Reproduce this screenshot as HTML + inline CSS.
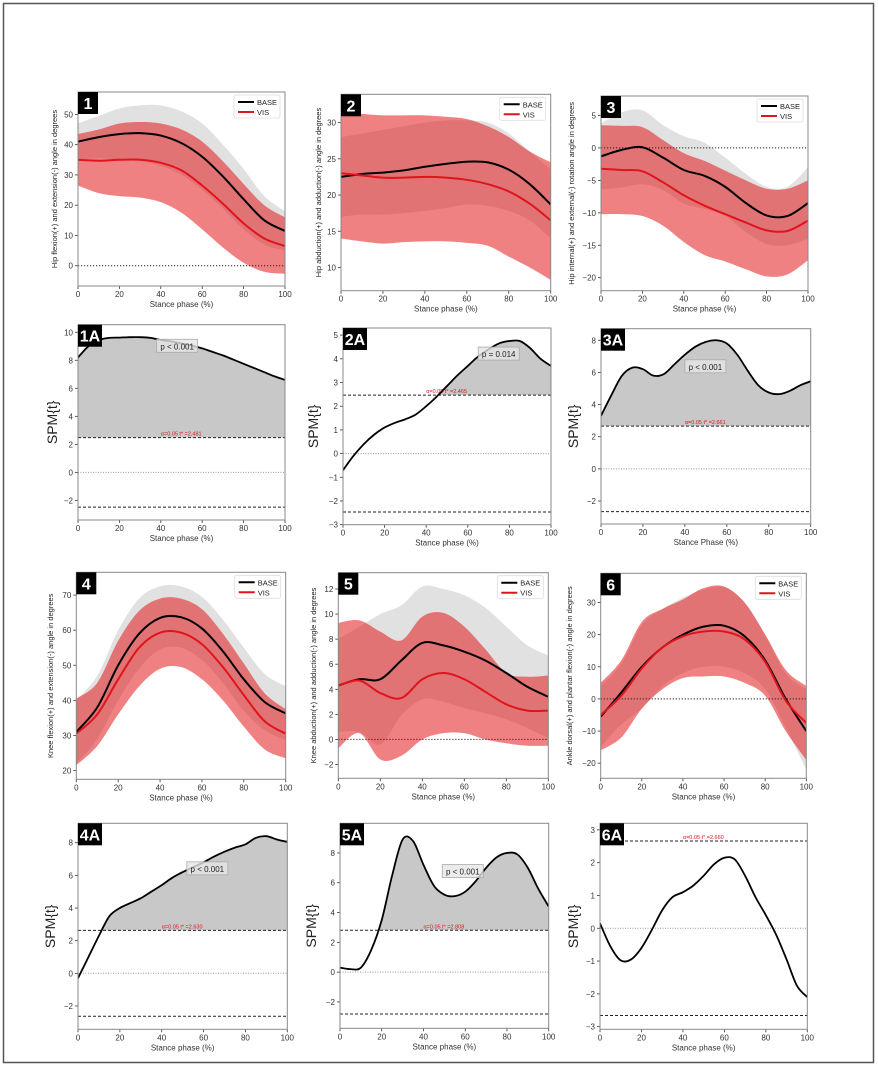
<!DOCTYPE html>
<html><head><meta charset="utf-8">
<style>
html,body{margin:0;padding:0;background:#fff;}
svg{display:block;font-family:"Liberation Sans","DejaVu Sans",sans-serif;}
</style></head>
<body>
<svg id="fig" width="878" height="1067" viewBox="0 0 878 1067" xmlns="http://www.w3.org/2000/svg">
<rect x="0" y="0" width="878" height="1067" fill="#fff"/>
<rect x="3.5" y="3.5" width="870" height="1059" fill="none" stroke="#555" stroke-width="1.5"/>
</svg>
<script>
// ---- shared x grid ----
const x10 = [0,10,20,30,40,50,60,70,80,90,100];
const x5 = [0,5,10,15,20,25,30,35,40,45,50,55,60,65,70,75,80,85,90,95,100];

// ---- Panel 1: hip flexion ----
const p1BaseMean = [41,42.5,43.5,43.8,43,40.5,36,29.5,22,15,11.5];
const p1BaseUp   = [47,49.5,52,53,53,51,47,40,32,23,18];
const p1BaseLo   = [35,35.5,35,34.6,33,30,25,19,12,7,5];
const p1VisMean  = [35,34.7,35,35,34,31.5,26.5,20.5,14,9,6.5];
const p1VisUp    = [43.5,45,47,47.5,47,45,41,34.5,27,20,16];
const p1VisLo    = [26.5,24,23,22.5,21,17.5,12,6,1,-2,-2.7];
const p1Ticks = [0,10,20,30,40,50];

// ---- Panel 2: hip abduction ----
const p2BaseMean = [22.5,22.9,23.1,23.4,23.9,24.3,24.6,24.5,23.5,21.5,18.7];
const p2BaseUp   = [28,28.5,29,29.5,30,30.3,30.3,30,28.5,26,23.5];
const p2BaseLo   = [17,17.3,17.3,17.5,17.8,18.2,18.7,18.5,17.8,16.5,14];
const p2VisMean  = [23,22.7,22.4,22.4,22.5,22.4,22.1,21.5,20.5,18.8,16.5];
const p2VisUp    = [31.5,31.2,31,31,31,30.8,30.5,29.5,28,26,24.5];
const p2VisLo    = [14,13.6,13.3,13.5,13.6,13.6,13.4,13,11.5,10,8.3];
const p2Ticks = [10,15,20,25,30];

// ---- Panel 3: hip rotation ----
const p3BaseMean = [-1.3,-0.3,0.1,-1.5,-3.4,-4.3,-6,-8.5,-10.4,-10.5,-8.5];
const p3BaseUp   = [3.8,5.5,5.8,3.5,1.8,0.8,-1.5,-4,-6,-6,-3];
const p3BaseLo   = [-6.4,-6.1,-5.6,-6.5,-8.6,-9.4,-10.5,-13,-14.8,-15,-14];
const p3VisMean  = [-3.2,-3.4,-3.6,-5.3,-7.3,-8.9,-10.2,-11.5,-12.7,-12.8,-11.2];
const p3VisUp    = [3.5,3.4,3.2,1.2,-0.8,-2,-3.5,-5,-6.3,-6.3,-5];
const p3VisLo    = [-10.2,-10.2,-10.5,-12,-14.5,-16.5,-17.5,-18.7,-19.8,-19.5,-17.3];
const p3Ticks = [-20,-15,-10,-5,0,5];

// ---- Panel 4: knee flexion ----
const p4BaseMean = [31,38,50,59,63.5,63.7,60.5,54,46,39.5,36.3];
const p4BaseUp   = [40,47,60,69,72.5,72.5,69.5,63,55,47.5,44];
const p4BaseLo   = [22,29,40,49,54.5,55,51.5,45,37,31.5,28.6];
const p4VisMean  = [30.5,36,46,55,59.3,59.3,56,49.5,41.5,34,30.5];
const p4VisUp    = [40.5,45,57,65.5,69,69,66,59,50.5,42,37.5];
const p4VisLo    = [21.5,27,36,44,49,49.5,46,40,32.5,26,23.5];
const p4Ticks = [20,30,40,50,60,70];

// ---- Panel 5: knee abduction ----
const p5BaseMean = [4.3,4.8,4.8,6.3,7.7,7.5,7,6.3,5.3,4.2,3.4];
const p5BaseUp   = [8,9,10,10.7,12.2,12,11.5,10.5,9,7.5,6.7];
const p5BaseLo   = [0.6,0.6,-0.4,1.9,3.2,3,2.5,2.1,1.6,0.9,0.1];
const p5VisMean  = [4.3,4.7,3.7,3.3,4.8,5.3,4.8,3.8,2.8,2.3,2.3];
const p5VisUp    = [9.3,9.5,8.6,7.9,9.8,10.1,9,7.2,5.3,5,5.1];
const p5VisLo    = [-0.7,0.5,-1.6,-1.3,0,0.5,0.5,0,-0.3,-0.5,-0.5];
const p5Ticks = [-2,0,2,4,6,8,10,12];

// ---- Panel 6: ankle ----
const p6BaseMean = [-5.5,2,10,16,20,22.5,22.8,19.5,12,0,-10];
const p6BaseUp   = [4,11,23,28,31.5,34,34.8,30,20,8,3];
const p6BaseLo   = [-15,-8,-3,4,8,10,10,8,3,-9,-22];
const p6VisMean  = [-5,1,9.5,16,19.5,21,21,18.5,11.5,-0.5,-7.5];
const p6VisUp    = [5,12,24,28,31,34.5,35,30,20,9,4];
const p6VisLo    = [-16,-12,-3,3,6.5,7,7,5,1,-10,-19];
const p6Ticks = [-20,-10,0,10,20,30];

// ---- SPM curves ----
const s1 = [8.2,9.0,9.45,9.6,9.62,9.65,9.65,9.6,9.45,9.35,9.2,9.05,8.85,8.6,8.35,8.05,7.75,7.45,7.15,6.85,6.6];
const s1Thr = 2.481; const s1Ticks = [-2,0,2,4,6,8,10];
const s2 = [-0.7,-0.1,0.4,0.8,1.1,1.3,1.45,1.65,2.0,2.4,2.85,3.3,3.7,4.1,4.4,4.65,4.75,4.75,4.45,4.0,3.7];
const s2Thr = 2.465; const s2Ticks = [-3,-2,-1,0,1,2,3,4,5];
const s3 = [3.3,4.6,5.8,6.3,6.2,5.8,5.9,6.5,7.1,7.6,7.9,8.0,7.8,7.1,6.1,5.2,4.75,4.65,4.85,5.2,5.45];
const s3Thr = 2.661; const s3Ticks = [-2,0,2,4,6,8];
const s4 = [-0.3,1.0,2.3,3.5,4.0,4.3,4.6,5.0,5.4,5.85,6.2,6.5,6.8,7.15,7.45,7.7,7.9,8.3,8.4,8.2,8.05];
const s4Thr = 2.630; const s4Ticks = [-2,0,2,4,6,8];
const s5 = [0.3,0.2,0.3,1.5,3.5,6.5,8.9,8.8,7.2,5.8,5.2,5.1,5.4,6.1,7.0,7.7,8.0,7.9,7.0,5.6,4.4];
const s5Thr = 2.808; const s5Ticks = [-2,0,2,4,6,8];
const s6 = [0.15,-0.55,-0.98,-0.95,-0.6,-0.05,0.55,0.95,1.1,1.3,1.6,1.95,2.15,2.1,1.6,0.95,0.4,-0.2,-0.95,-1.75,-2.1];
const s6Thr = 2.660; const s6Ticks = [-3,-2,-1,0,1,2,3];
const xTicks = [0,20,40,60,80,100];

const NS = "http://www.w3.org/2000/svg";
const fig = document.getElementById('fig');
function mk(tag, attrs, parent) {
  const e = document.createElementNS(NS, tag);
  for (const k in attrs) e.setAttribute(k, attrs[k]);
  (parent || fig).appendChild(e);
  return e;
}
function scales(ax) {
  return {
    sx: v => ax.L + v / 100 * (ax.R - ax.L),
    sy: v => ax.B - (v - ax.ymin) / (ax.ymax - ax.ymin) * (ax.B - ax.T)
  };
}
function smoothPts(pts) {
  let d = "M" + pts[0][0].toFixed(2) + "," + pts[0][1].toFixed(2);
  for (let i = 0; i < pts.length - 1; i++) {
    const p0 = pts[Math.max(0, i - 1)], p1 = pts[i], p2 = pts[i + 1], p3 = pts[Math.min(pts.length - 1, i + 2)];
    const c1x = p1[0] + (p2[0] - p0[0]) / 6, c1y = p1[1] + (p2[1] - p0[1]) / 6;
    const c2x = p2[0] - (p3[0] - p1[0]) / 6, c2y = p2[1] - (p3[1] - p1[1]) / 6;
    d += " C" + c1x.toFixed(2) + "," + c1y.toFixed(2) + " " + c2x.toFixed(2) + "," + c2y.toFixed(2) + " " + p2[0].toFixed(2) + "," + p2[1].toFixed(2);
  }
  return d;
}
function curvePath(xs, ys, s) { return smoothPts(xs.map((x, i) => [s.sx(x), s.sy(ys[i])])); }
function bandPath(xs, up, lo, s) {
  const a = xs.map((x, i) => [s.sx(x), s.sy(up[i])]);
  const b = xs.map((x, i) => [s.sx(x), s.sy(lo[i])]).reverse();
  return smoothPts(a) + " L" + smoothPts(b).slice(1) + " Z";
}
let clipN = 0;
function axesFrame(g, ax, s, ticks, xlabel, ylabel, ylabelX, ylabelSize, tag) {
  // clip
  const id = "clip" + (clipN++);
  const cp = mk('clipPath', {id: id}, g);
  mk('rect', {x: ax.L, y: ax.T, width: ax.R - ax.L, height: ax.B - ax.T}, cp);
  const inner = mk('g', {'clip-path': 'url(#' + id + ')'}, g);
  // ticks
  ticks.forEach(t => {
    const y = s.sy(t);
    const tk = mk('line', {x1: ax.L - 3, x2: ax.L, y1: y, y2: y, stroke: '#333', 'stroke-width': 0.8}, g);
    
    
    const tl = mk('text', {x: ax.L - 5, y: y + 3, 'font-size': 8, fill: '#333', 'text-anchor': 'end'}, g);
    tl.textContent = (t < 0 ? "\u2212" + Math.abs(t) : String(t));
    
    
  });
  xTicks.forEach(t => {
    const x = s.sx(t);
    const tk = mk('line', {x1: x, x2: x, y1: ax.B, y2: ax.B + 3, stroke: '#333', 'stroke-width': 0.8}, g);
    
    
    const tl = mk('text', {x: x, y: ax.B + 11, 'font-size': 8, fill: '#333', 'text-anchor': 'middle'}, g);
    tl.textContent = String(t);
    
    
  });
  const xl = mk('text', {x: (ax.L + ax.R) / 2, y: ax.B + 21, 'font-size': 8, fill: '#333', 'text-anchor': 'middle'}, g);
  xl.textContent = xlabel;
  
  
  const cy = (ax.T + ax.B) / 2;
  const yl = mk('text', {x: ylabelX, y: cy, 'font-size': ylabelSize, fill: '#222', 'text-anchor': 'middle', transform: 'rotate(-90 ' + ylabelX + ' ' + cy + ')'}, g);
  yl.textContent = ylabel;
  
  
  return inner;
}
function finishFrame(g, ax, tag) {
  const fr = mk('rect', {x: ax.L, y: ax.T, width: ax.R - ax.L, height: ax.B - ax.T, fill: 'none', stroke: '#888', 'stroke-width': 1}, g);
  
  
  const w = tag.length > 1 ? 24 : 20;
  const bx = mk('rect', {x: ax.L, y: ax.T, width: w, height: 22, fill: '#000'}, g);
  
  
  const bt = mk('text', {x: ax.L + w / 2, y: ax.T + 17, 'font-size': 16, 'font-weight': 'bold', fill: '#fff', 'text-anchor': 'middle'}, g);
  bt.textContent = tag;
  
  
}
function kinPanel(ax, tag, ylabel, ylabelX, ticks, bm, bu, bl, vm, vu, vl) {
  const g = mk('g', {});
  
  
  const s = scales(ax);
  const inner = axesFrame(g, ax, s, ticks, 'Stance phase (%)', ylabel, ylabelX, 7.5, tag);
  const gb = mk('path', {d: bandPath(x10, bu, bl, s), fill: '#d4d4d4', 'fill-opacity': 0.7}, inner);
  
  
  const rb = mk('path', {d: bandPath(x10, vu, vl, s), fill: '#e31a1c', 'fill-opacity': 0.55}, inner);
  
  
  const zl = mk('line', {x1: ax.L, x2: ax.R, y1: s.sy(0), y2: s.sy(0), stroke: '#222', 'stroke-width': 1, 'stroke-dasharray': '1.2 1.8'}, inner);
  
  
  const bL = mk('path', {d: curvePath(x10, bm, s), fill: 'none', stroke: '#000', 'stroke-width': 2}, inner);
  
  
  const vL = mk('path', {d: curvePath(x10, vm, s), fill: 'none', stroke: '#e0141c', 'stroke-width': 2}, inner);
  
  
  // legend
  const lg = mk('g', {}, g);
  
  
  const lx = ax.R - 51, ly = ax.T + 3;
  mk('rect', {x: lx, y: ly, width: 46, height: 23, fill: '#fff', 'fill-opacity': 0.85, stroke: '#ddd', 'stroke-width': 0.8, rx: 2}, lg);
  const l1 = mk('line', {x1: lx + 4, x2: lx + 20, y1: ly + 7, y2: ly + 7, stroke: '#000', 'stroke-width': 2}, lg);
  
  
  const t1 = mk('text', {x: lx + 23, y: ly + 10, 'font-size': 7.5, fill: '#222'}, lg);
  t1.textContent = 'BASE';
  const l2 = mk('line', {x1: lx + 4, x2: lx + 20, y1: ly + 17, y2: ly + 17, stroke: '#e0141c', 'stroke-width': 2}, lg);
  
  
  const t2 = mk('text', {x: lx + 23, y: ly + 20, 'font-size': 7.5, fill: '#222'}, lg);
  t2.textContent = 'VIS';
  finishFrame(g, ax, tag);
}
function spmPanel(ax, tag, xlabel, ylabelX, ticks, vals, thr, fill, pLabel, pX, pY, thrLabelX, thrAbove) {
  const g = mk('g', {});
  
  
  const s = scales(ax);
  const inner = axesFrame(g, ax, s, ticks, xlabel, 'SPM{t}', ylabelX, 14, tag);
  if (fill) {
    const id = "clip" + (clipN++);
    const cp = mk('clipPath', {id: id}, g);
    mk('rect', {x: ax.L, y: ax.T, width: ax.R - ax.L, height: s.sy(thr) - ax.T}, cp);
    const fp = mk('path', {d: curvePath(x5, vals, s) + " L" + s.sx(100) + "," + s.sy(thr) + " L" + s.sx(0) + "," + s.sy(thr) + " Z", fill: '#c8c8c8', 'clip-path': 'url(#' + id + ')'}, inner);
    
    
  }
  const zl = mk('line', {x1: ax.L, x2: ax.R, y1: s.sy(0), y2: s.sy(0), stroke: '#999', 'stroke-width': 1, 'stroke-dasharray': '1 1.5'}, inner);
  
  
  const th1 = mk('line', {x1: ax.L, x2: ax.R, y1: s.sy(thr), y2: s.sy(thr), stroke: '#222', 'stroke-width': 1, 'stroke-dasharray': '3 2'}, inner);
  
  
  const th2 = mk('line', {x1: ax.L, x2: ax.R, y1: s.sy(-thr), y2: s.sy(-thr), stroke: '#222', 'stroke-width': 1, 'stroke-dasharray': '3 2'}, inner);
  
  
  const tt = mk('text', {x: s.sx(thrLabelX), y: s.sy(thr) - 2, 'font-size': 5.5, fill: '#e0141c'}, inner);
  tt.textContent = '\u03b1=0.05  t* =' + thr.toFixed(3);
  
  
  const cl = mk('path', {d: curvePath(x5, vals, s), fill: 'none', stroke: '#000', 'stroke-width': 1.8}, inner);
  
  
  if (pLabel) {
    const px = s.sx(pX), py = s.sy(pY);
    const pb = mk('rect', {x: px, y: py - 7, width: 41, height: 13, fill: '#e6e6e6', 'fill-opacity': 0.8, stroke: '#aaa', 'stroke-width': 0.8}, inner);
    
    
    const pt = mk('text', {x: px + 20.5, y: py + 3, 'font-size': 8, fill: '#222', 'text-anchor': 'middle'}, inner);
    pt.textContent = pLabel;
    
    
  }
  finishFrame(g, ax, tag);
}

kinPanel({L:78,R:285,T:92,B:286,ymin:-6.7,ymax:57.4}, '1', 'Hip flexion(+) and extension(-) angle in degrees', 57, p1Ticks, p1BaseMean,p1BaseUp,p1BaseLo,p1VisMean,p1VisUp,p1VisLo);
kinPanel({L:341,R:550.7,T:94.3,B:290.7,ymin:6.8,ymax:33.9}, '2', 'Hip abduction(+) and adduction(-) angle in degrees', 321, p2Ticks, p2BaseMean,p2BaseUp,p2BaseLo,p2VisMean,p2VisUp,p2VisLo);
kinPanel({L:601,R:808,T:96,B:290.7,ymin:-22,ymax:8}, '3', 'Hip internal(+) and external(-) rotation angle in degrees', 574, p3Ticks, p3BaseMean,p3BaseUp,p3BaseLo,p3VisMean,p3VisUp,p3VisLo);
kinPanel({L:76.3,R:285.7,T:572.3,B:779.3,ymin:17.5,ymax:76.5}, '4', 'Knee flexion(+) and extension(-) angle in degrees', 53, p4Ticks, p4BaseMean,p4BaseUp,p4BaseLo,p4VisMean,p4VisUp,p4VisLo);
kinPanel({L:338.3,R:548.3,T:572.7,B:778.3,ymin:-3.1,ymax:13.3}, '5', 'Knee abduction(+) and adduction(-) angle in degrees', 316, p5Ticks, p5BaseMean,p5BaseUp,p5BaseLo,p5VisMean,p5VisUp,p5VisLo);
kinPanel({L:600.7,R:806.3,T:573.3,B:778.3,ymin:-24.7,ymax:39.1}, '6', 'Ankle dorsal(+) and plantar flexion(-) angle in degrees', 572, p6Ticks, p6BaseMean,p6BaseUp,p6BaseLo,p6VisMean,p6VisUp,p6VisLo);

spmPanel({L:78,R:285,T:324.7,B:520,ymin:-3.4,ymax:10.54}, '1A', 'Stance phase (%)', 57, s1Ticks, s1, s1Thr, true, 'p < 0.001', 38, 9.0, 40);
spmPanel({L:343,R:551,T:328,B:524.7,ymin:-3,ymax:5.3}, '2A', 'Stance phase (%)', 318, s2Ticks, s2, s2Thr, true, 'p = 0.014', 65, 4.2, 40);
spmPanel({L:601,R:810.7,T:328.7,B:524,ymin:-3.43,ymax:8.72}, '3A', 'Stance Phase (%)', 578, s3Ticks, s3, s3Thr, true, 'p < 0.001', 40, 6.35, 40);
spmPanel({L:78,R:287.3,T:823.3,B:1029.3,ymin:-3.43,ymax:9.19}, '4A', 'Stance phase (%)', 55, s4Ticks, s4, s4Thr, true, 'p < 0.001', 52, 6.4, 40);
spmPanel({L:340,R:548.7,T:823.3,B:1028.3,ymin:-3.77,ymax:9.99}, '5A', 'Stance phase (%)', 316, s5Ticks, s5, s5Thr, true, 'p < 0.001', 49, 6.75, 40);
spmPanel({L:600,R:807.3,T:823.3,B:1029.3,ymin:-3.08,ymax:3.2}, '6A', 'Stance phase (%)', 578, s6Ticks, s6, s6Thr, false, null, 0, 0, 40);
</script>
</body></html>
